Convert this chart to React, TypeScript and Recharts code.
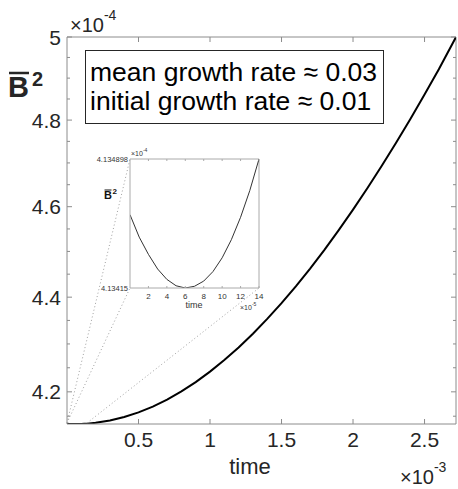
import React from 'react';
import { LineChart, Line, XAxis, YAxis, ReferenceLine } from 'recharts';

// ---- main curve (time in ×10^-3, B² in ×10^-4) ----
const timeMain = [0, 0.02, 0.04, 0.06, 0.08, 0.1, 0.12, 0.14, 0.2, 0.3, 0.4, 0.5, 0.6, 0.7, 0.8, 0.9, 1.0, 1.1, 1.2, 1.3, 1.4, 1.5, 1.6, 1.7, 1.8, 1.9, 2.0, 2.1, 2.2, 2.3, 2.4, 2.5, 2.6, 2.72];
const b2Main = [4.13457, 4.13434, 4.13419, 4.13415, 4.1342, 4.13435, 4.1346, 4.1349, 4.1365, 4.1412, 4.1483, 4.1578, 4.1697, 4.1841, 4.201, 4.2202, 4.242, 4.2661, 4.2927, 4.3217, 4.3532, 4.3871, 4.4235, 4.4623, 4.5035, 4.5472, 4.5933, 4.6419, 4.6929, 4.7463, 4.8022, 4.8605, 4.9213, 5.0];

// ---- inset curve (time in ×10^-5, B² in ×10^-4) ----
const timeInset = [0, 1, 2, 3, 4, 5, 6, 7, 8, 9, 10, 11, 12, 13, 14];
const b2Inset = [4.134575, 4.134445, 4.134345, 4.13426, 4.1342, 4.134163, 4.13415, 4.13416, 4.13419, 4.134245, 4.134325, 4.13443, 4.13456, 4.134715, 4.134898];

// ---- ticks ----
const xTicksMain = [0.5, 1, 1.5, 2, 2.5];
const yMajorMain = [4.2, 4.4, 4.6, 4.8, 5];
const yMinorMain = [4.15, 4.25, 4.3, 4.35, 4.45, 4.5, 4.55, 4.65, 4.7, 4.75, 4.85, 4.9, 4.95];
const xTicksInset = [2, 4, 6, 8, 10, 12, 14];
const yTicksInset = [4.13415, 4.134898];

const mainDomainX = [0, 2.72];
const mainDomainY = [4.13415, 5];
const insetDomainX = [0, 14];
const insetDomainY = [4.13415, 4.134898];

const mainData = timeMain.map((t, i) => ({ t, b: b2Main[i] }));
const insetData = timeInset.map((t, i) => ({ t, b: b2Inset[i] }));

const FONT = '"Liberation Sans", Arial, Helvetica, sans-serif';
const AX = '#8c8c8c';
const TXT = '#262626';

// main plot area (px)
const PL = 67, PR = 456, PT = 37, PB = 424;
// inset plot area (px, page coords)
const IL = 130, IR = 259, IT = 159, IB = 288;
const INSET_LEFT = 70, INSET_TOP = 140;

const MainYTick = (props: any) => {
  const { y, payload } = props;
  const v = payload.value;
  const major = yMajorMain.includes(v);
  const len = major ? 5 : 3;
  return (
    <g>
      <line x1={PL} x2={PL + len} y1={y} y2={y} stroke={AX} />
      <line x1={PR} x2={PR - len} y1={y} y2={y} stroke={AX} />
      {major && (
        <text x={61} y={y} dy="0.36em" textAnchor="end" fontSize={21} fill={TXT} fontFamily={FONT}>
          {String(v)}
        </text>
      )}
    </g>
  );
};

const MainXTick = (props: any) => {
  const { x, payload } = props;
  return (
    <g>
      <line x1={x} x2={x} y1={PB} y2={PB - 5} stroke={AX} />
      <line x1={x} x2={x} y1={PT} y2={PT + 5} stroke={AX} />
      <text x={x} y={PB + 23} textAnchor="middle" fontSize={21} fill={TXT} fontFamily={FONT}>
        {String(payload.value)}
      </text>
    </g>
  );
};

const iL = IL - INSET_LEFT, iR = IR - INSET_LEFT, iT = IT - INSET_TOP, iB = IB - INSET_TOP;

const InsetXTick = (props: any) => {
  const { x, payload } = props;
  return (
    <g>
      <line x1={x} x2={x} y1={iB} y2={iB - 2} stroke="#aaa" />
      <line x1={x} x2={x} y1={iT} y2={iT + 2} stroke="#aaa" />
      <text x={x} y={iB + 11} textAnchor="middle" fontSize={8} fill="#333" fontFamily={FONT}>
        {String(payload.value)}
      </text>
    </g>
  );
};

const InsetYTick = (props: any) => {
  const { y, payload } = props;
  return (
    <g>
      <text x={iL - 2} y={y} dy="0.35em" textAnchor="end" fontSize={7.5} fill="#333" fontFamily={FONT}>
        {String(payload.value)}
      </text>
    </g>
  );
};

export default function App() {
  return (
    <div style={{ position: 'absolute', left: 0, top: 0, width: 458, height: 489, background: '#fff' }}>
      <div style={{ position: 'absolute', left: 0, top: 0 }}>
        <LineChart width={458} height={489} data={mainData} margin={{ top: PT, right: 458 - PR, bottom: 0, left: 0 }}>
          <XAxis dataKey="t" type="number" domain={mainDomainX} ticks={xTicksMain} interval={0} allowDataOverflow height={489 - PB} axisLine={{ stroke: AX }} tickLine={false} tick={<MainXTick />} />
          <YAxis type="number" scale="log" domain={mainDomainY} ticks={[...yMinorMain, ...yMajorMain]} interval={0} allowDataOverflow width={PL} axisLine={{ stroke: AX }} tickLine={false} tick={<MainYTick />} />
          <ReferenceLine y={5} stroke={AX} ifOverflow="extendDomain" />
          <ReferenceLine x={2.72} stroke={AX} />
          <Line dataKey="b" type="linear" stroke="#000" strokeWidth={2} dot={false} isAnimationActive={false} />
        </LineChart>
      </div>
      <svg width={458} height={489} style={{ position: 'absolute', left: 0, top: 0, pointerEvents: 'none' }}>
        <g stroke="#a0a0a0" strokeWidth={1} strokeDasharray="1 2.5" fill="none">
          <line x1={PL} y1={PB - 1} x2={IL} y2={IT} />
          <line x1={PL} y1={PB - 1} x2={IL} y2={IB} />
          <line x1={87} y1={PB - 1} x2={IR} y2={IB} />
        </g>
        <rect x={85.5} y={50.5} width={298} height={73} fill="#fff" stroke={TXT} strokeWidth={1} />
        <text x={90} y={81} fontSize={26.5} fill="#000" fontFamily={FONT}>mean growth rate ≈ 0.03</text>
        <text x={90} y={110} fontSize={26.5} fill="#000" fontFamily={FONT}>initial growth rate ≈ 0.01</text>
        {/* y label */}
        <text x={8} y={97} fontSize={29} fontWeight="bold" fill={TXT} fontFamily={FONT}>B</text>
        <line x1={9} x2={29} y1={73} y2={73} stroke={TXT} strokeWidth={2.5} />
        <text x={32} y={86} fontSize={20} fontWeight="bold" fill={TXT} fontFamily={FONT}>2</text>
        {/* exponent labels */}
        <text x={70} y={32} fontSize={20} fill={TXT} fontFamily={FONT}>×10<tspan dy={-12} fontSize={14}>-4</tspan></text>
        <text x={400} y={484} fontSize={20} fill={TXT} fontFamily={FONT}>×10<tspan dy={-12} fontSize={14}>-3</tspan></text>
        <text x={250} y={474} fontSize={22} textAnchor="middle" fill={TXT} fontFamily={FONT}>time</text>
      </svg>
      <div style={{ position: 'absolute', left: INSET_LEFT, top: INSET_TOP }}>
        <LineChart width={200} height={180} data={insetData} margin={{ top: iT, right: 200 - iR, bottom: 0, left: 0 }}>
          <XAxis dataKey="t" type="number" domain={insetDomainX} ticks={xTicksInset} interval={0} allowDataOverflow height={180 - iB} axisLine={{ stroke: '#aaa' }} tickLine={false} tick={<InsetXTick />} />
          <YAxis type="number" domain={insetDomainY} ticks={yTicksInset} interval={0} allowDataOverflow width={iL} axisLine={{ stroke: '#aaa' }} tickLine={false} tick={<InsetYTick />} />
          <ReferenceLine y={4.134898} stroke="#aaa" />
          <ReferenceLine x={14} stroke="#aaa" />
          <Line dataKey="b" type="linear" stroke="#333" strokeWidth={1} dot={false} isAnimationActive={false} />
        </LineChart>
      </div>
      <svg width={458} height={489} style={{ position: 'absolute', left: 0, top: 0, pointerEvents: 'none' }}>
        <text x={131} y={156} fontSize={7} fill="#333" fontFamily={FONT}>×10<tspan dy={-4} fontSize={5}>-4</tspan></text>
        <text x={240} y={310} fontSize={7} fill="#333" fontFamily={FONT}>×10<tspan dy={-4} fontSize={5}>-5</tspan></text>
        <text x={194} y={308} fontSize={9} textAnchor="middle" fill="#333" fontFamily={FONT}>time</text>
        <text x={104} y={199} fontSize={11} fontWeight="bold" fill="#111" fontFamily={FONT}>B</text>
        <line x1={104.5} x2={111.5} y1={190} y2={190} stroke="#111" strokeWidth={1} />
        <text x={112.5} y={194} fontSize={8} fontWeight="bold" fill="#111" fontFamily={FONT}>2</text>
      </svg>
    </div>
  );
}
